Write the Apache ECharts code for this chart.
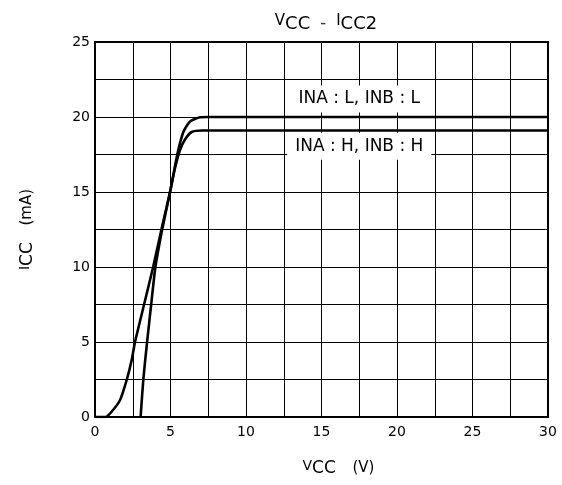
<!DOCTYPE html>
<html>
<head>
<meta charset="utf-8">
<script src="https://cdn.jsdelivr.net/npm/echarts@6/dist/echarts.min.js"></script>
<style>html,body{margin:0;padding:0;background:#fff}#c{width:562px;height:485px}</style>
</head>
<body>
<div id="c"></div>
<script>
const vccLL = [0, 0.7, 1.1, 1.66, 2.1, 2.43, 2.65, 3.25, 3.85, 4.4, 4.97, 5.45, 5.85, 6.29, 6.95, 7.5, 30];
const iccLL = [0, 0, 0.35, 1.13, 2.47, 3.8, 5, 7.5, 10, 12.5, 15, 17.5, 19.0, 19.7, 19.98, 20, 20];
const vccHH = [3.02, 3.2, 3.45, 3.72, 4.0, 4.45, 4.97, 5.3, 5.63, 5.96, 6.4, 7.07, 30];
const iccHH = [0, 2.5, 5, 7.5, 10, 12.5, 15, 16.6, 17.8, 18.5, 19.0, 19.1, 19.1];
const labelLL = 'INA : L, INB : L';
const labelHH = 'INA : H, INB : H';
const font = 'DejaVu Sans';

const chart = echarts.init(document.getElementById('c'), null, {renderer: 'canvas'});
const fmt = v => (Math.abs(v % 5) < 1e-6 ? String(v) : '');
const nameRich = {
  v: {fontFamily: font, fontSize: 14, color: '#000', padding: [0,0,5,0]},
  s: {fontFamily: font, fontSize: 17, color: '#000'},
  u: {fontFamily: font, fontSize: 15, color: '#000'}
};
const annRich = {a: {fontFamily: font, fontSize: 17, color: '#000'}};
chart.setOption({
  backgroundColor: '#fff',
  animation: false,
  title: {
    text: '{v|V}{s|CC}  -  {v|I}{s|CC2}',
    left: 321, top: 9, textAlign: 'center',
    textStyle: {
      fontWeight: 'normal',
      rich: {
        v: {fontFamily: font, fontSize: 15, fontWeight: 'normal', color: '#000', padding: [0,0,6,0]},
        s: {fontFamily: font, fontSize: 18, fontWeight: 'normal', color: '#000'}
      }
    }
  },
  grid: {left: 95, right: 14, top: 42, bottom: 68, show: true, borderColor: '#000', borderWidth: 2},
  xAxis: {
    type: 'value', min: 0, max: 30, interval: 2.5,
    name: '{v|V}{s|CC}    {u|(V)}', nameLocation: 'middle', nameGap: 42,
    nameTextStyle: {fontSize: 15, rich: nameRich, padding: [0,0,0,34]},
    axisLine: {lineStyle: {color: '#000', width: 2}},
    axisTick: {show: false},
    axisLabel: {formatter: fmt, color: '#000', fontFamily: font, fontSize: 14, margin: 8, showMaxLabel: true},
    splitLine: {lineStyle: {color: '#000', width: 1}}
  },
  yAxis: {
    type: 'value', min: 0, max: 25, interval: 2.5,
    name: '{v|I}{s|CC}    {u|(mA)}', nameLocation: 'middle', nameGap: 58,
    nameTextStyle: {fontSize: 15, rich: nameRich},
    axisLine: {lineStyle: {color: '#000', width: 2}},
    axisTick: {show: false},
    axisLabel: {formatter: fmt, color: '#000', fontFamily: font, fontSize: 14, margin: 5},
    splitLine: {lineStyle: {color: '#000', width: 1}}
  },
  series: [
    {
      type: 'line', name: labelLL, showSymbol: false, smooth: 0.2,
      data: vccLL.map((v, i) => [v, iccLL[i]]),
      lineStyle: {color: '#000', width: 2.6},
      markPoint: {
        symbol: 'rect', symbolSize: 1, itemStyle: {color: 'transparent'},
        data: [{coord: [17.5, 21.2], value: labelLL}],
        label: {show: true, position: 'inside', formatter: '{a|' + labelLL + '}', rich: annRich,
          backgroundColor: '#fff', padding: [5, 8, 5, 8]}
      }
    },
    {
      type: 'line', name: labelHH, showSymbol: false, smooth: 0.2,
      data: vccHH.map((v, i) => [v, iccHH[i]]),
      lineStyle: {color: '#000', width: 2.6},
      markPoint: {
        symbol: 'rect', symbolSize: 1, itemStyle: {color: 'transparent'},
        data: [{coord: [17.5, 18.05], value: labelHH}],
        label: {show: true, position: 'inside', formatter: '{a|' + labelHH + '}', rich: annRich,
          backgroundColor: '#fff', padding: [5, 8, 5, 8]}
      }
    }
  ]
});
</script>
</body>
</html>
